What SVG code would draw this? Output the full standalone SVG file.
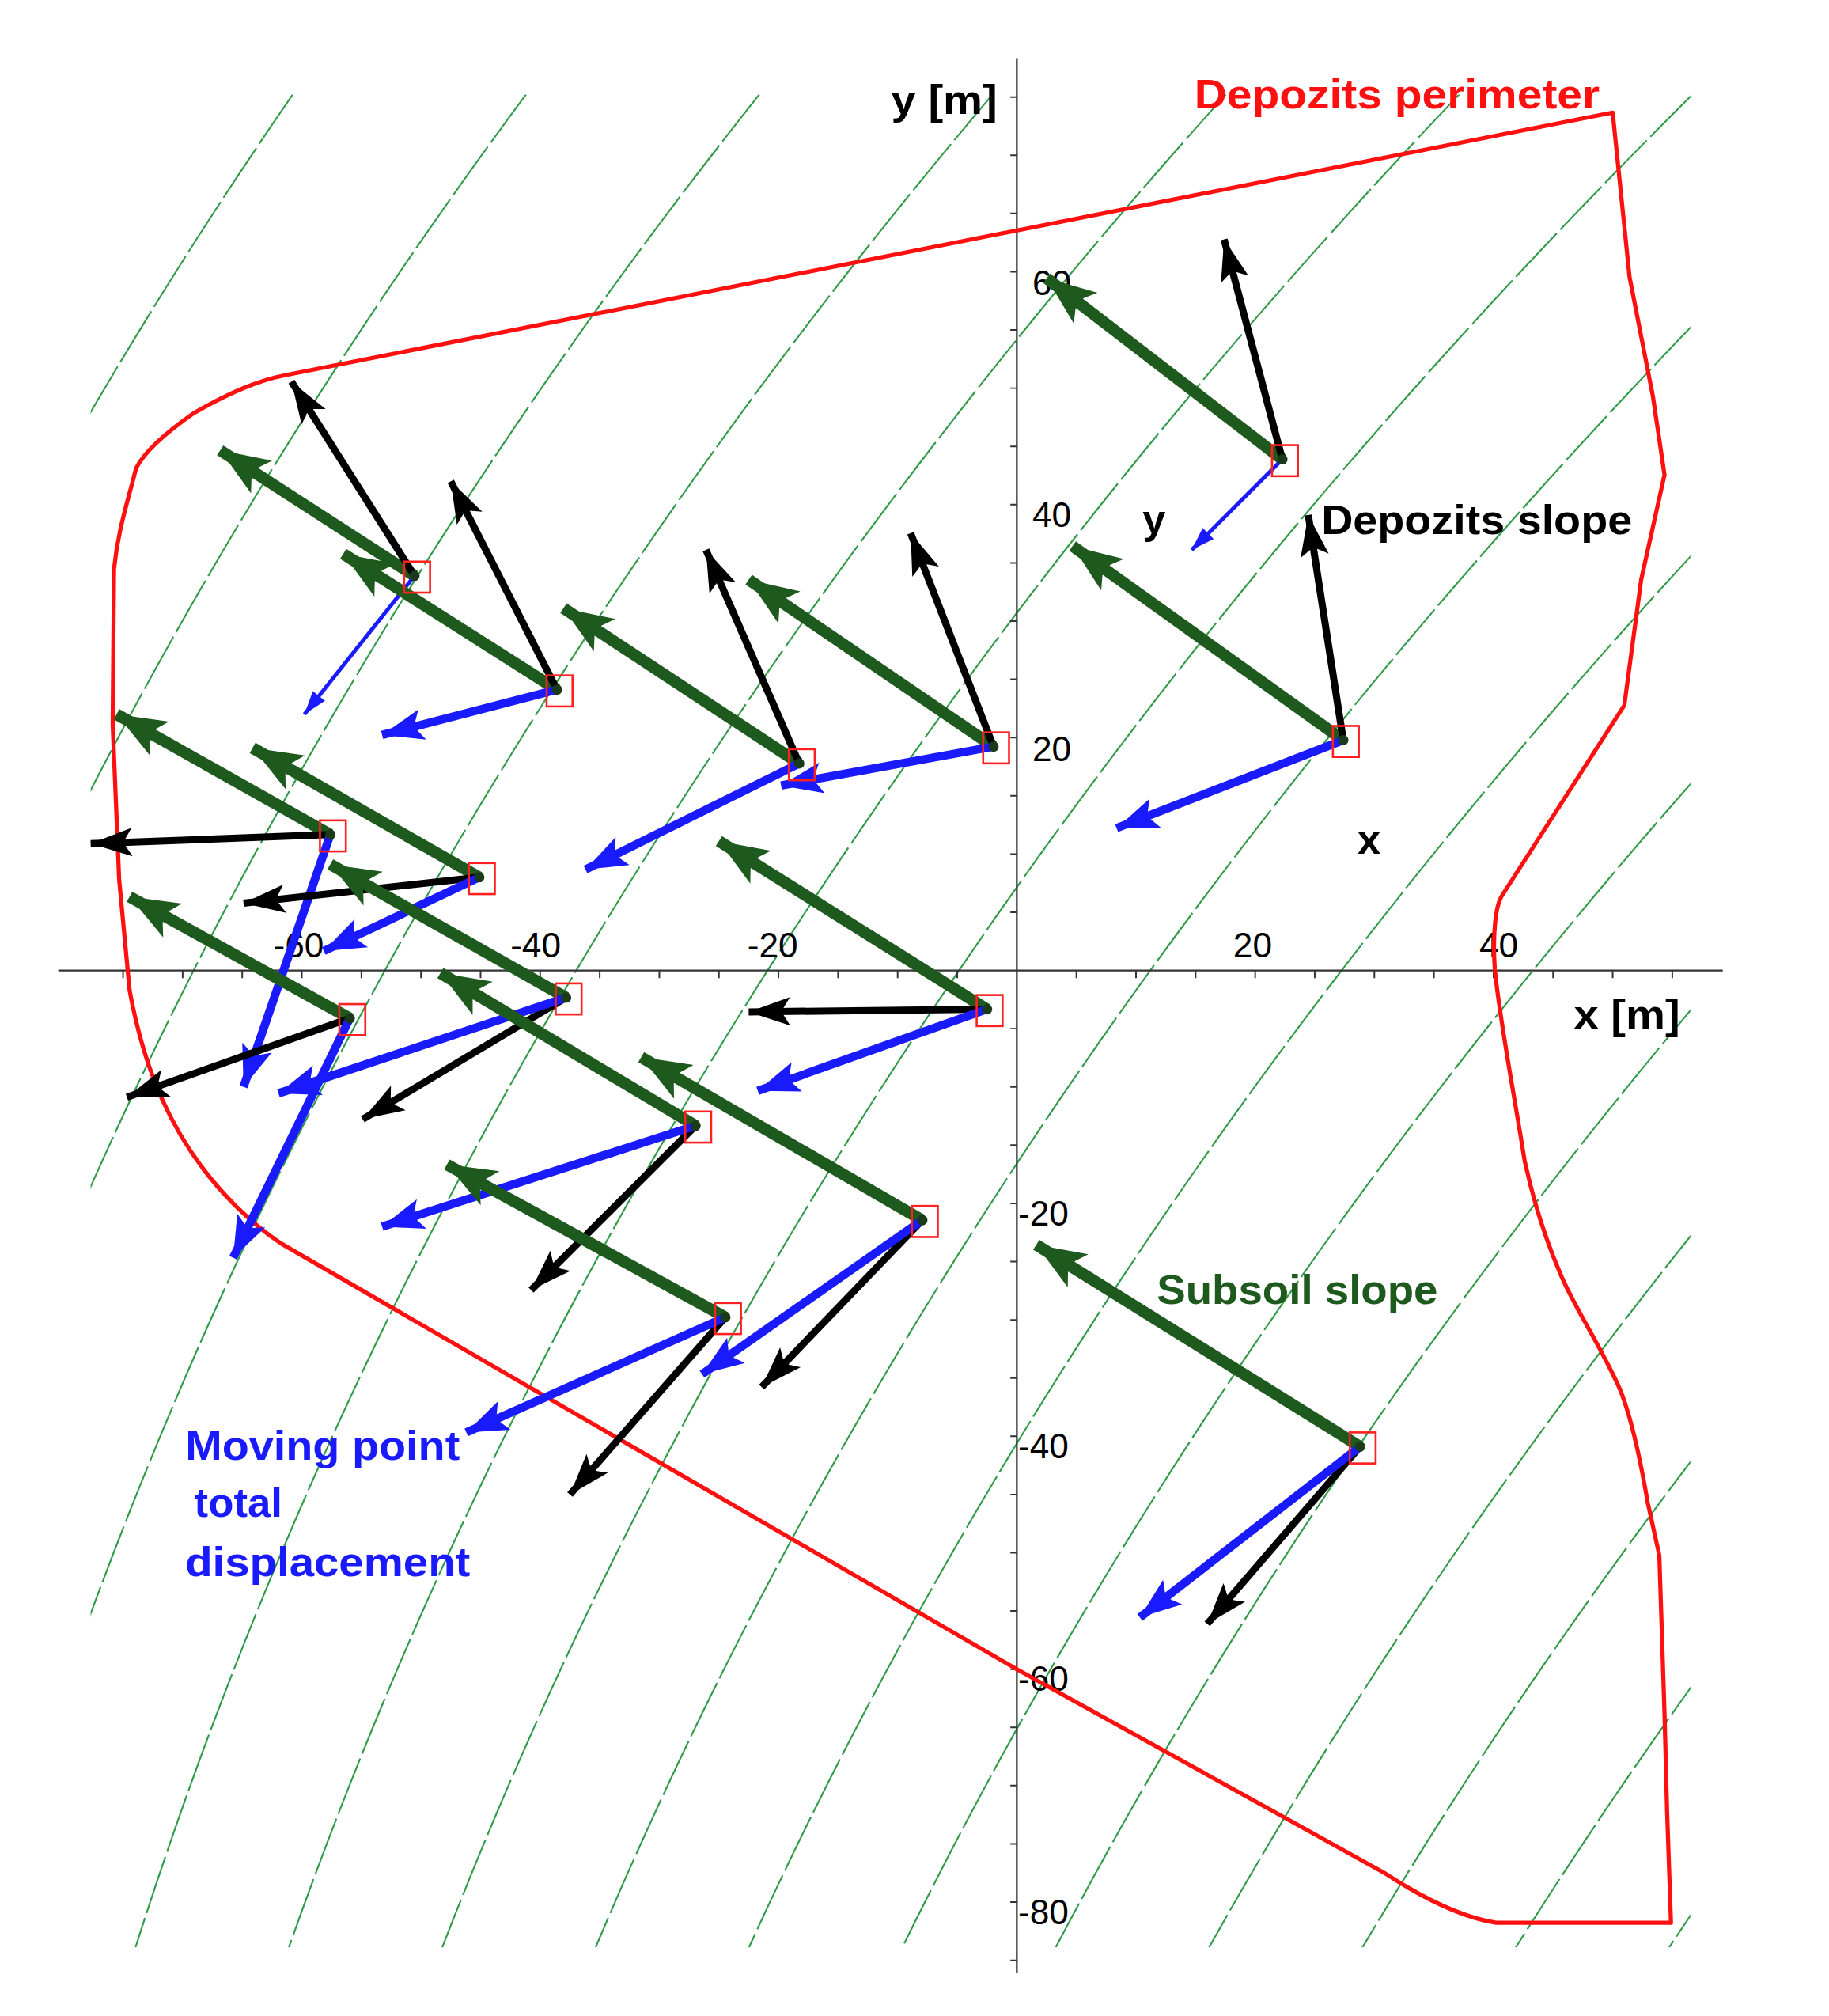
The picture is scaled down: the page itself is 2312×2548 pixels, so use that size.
<svg xmlns="http://www.w3.org/2000/svg" width="2312" height="2548" viewBox="0 0 2312 2548">
<style>
.h{fill:none;stroke:#2f9a48;stroke-width:1.3;stroke-dasharray:46 4}
.ax{stroke:#333;stroke-width:1.4;fill:none}
.tk{stroke:#333;stroke-width:1.2}
.tl{font-family:"Liberation Sans",Arial,sans-serif;font-size:27px;fill:#000}
.lb{font-family:"Liberation Sans",Arial,sans-serif;font-size:32px;font-weight:bold}
.g{stroke:#1e5a1e;stroke-width:9;fill:none;marker-end:url(#mg)}
.k{stroke:#000;stroke-width:5.5;fill:none;marker-end:url(#mk)}
.b{stroke:#1a1aff;stroke-width:6.5;fill:none;marker-end:url(#mb)}
.bs{stroke:#1a1aff;stroke-width:3;fill:none;marker-end:url(#mbs)}
.sq{fill:none;stroke:#ff2020;stroke-width:1.6}
.dt{fill:#1a3a1a}
</style>
<defs>
<clipPath id="cl"><rect x="70" y="73" width="1235" height="1432"/></clipPath>
<marker id="mg" markerUnits="userSpaceOnUse" orient="auto" refX="0" refY="0" markerWidth="90" markerHeight="90" viewBox="-45 -45 90 90" overflow="visible"><path d="M0,0 L-38,-15 L-32,-5 L-32,5 L-38,15 Z" fill="#1e5a1e"/></marker>
<marker id="mk" markerUnits="userSpaceOnUse" orient="auto" refX="0" refY="0" markerWidth="90" markerHeight="90" viewBox="-45 -45 90 90" overflow="visible"><path d="M0,0 L-32,-11 L-27,-3 L-27,3 L-32,11 Z" fill="#000"/></marker>
<marker id="mb" markerUnits="userSpaceOnUse" orient="auto" refX="0" refY="0" markerWidth="90" markerHeight="90" viewBox="-45 -45 90 90" overflow="visible"><path d="M0,0 L-32,-12 L-27,-3 L-27,3 L-32,12 Z" fill="#1a1aff"/></marker>
<marker id="mbs" markerUnits="userSpaceOnUse" orient="auto" refX="0" refY="0" markerWidth="90" markerHeight="90" viewBox="-45 -45 90 90" overflow="visible"><path d="M0,0 L-18,-6 L-18,6 Z" fill="#1a1aff"/></marker>
</defs>
<rect width="2312" height="2548" fill="#fff"/>
<g transform="scale(1.6374,1.6354)">
<g id="hatch" clip-path="url(#cl)">
<path class="h" d="M226,73 Q-232,738.7 -369,1505"/>
<path class="h" d="M406.1,73 Q-87,738.7 -250.6,1505"/>
<path class="h" d="M586.2,73 Q58,738.7 -132.2,1505"/>
<path class="h" d="M766.3,73 Q202.9,738.7 -13.8,1505"/>
<path class="h" d="M946.4,73 Q347.9,738.7 104.6,1505"/>
<path class="h" d="M1126.5,73 Q492.9,738.7 223,1505"/>
<path class="h" d="M1306.6,73 Q637.9,738.7 341.4,1505"/>
<path class="h" d="M1486.7,73 Q782.9,738.7 459.8,1505"/>
<path class="h" d="M1666.8,73 Q927.8,738.7 578.2,1505"/>
<path class="h" d="M1846.9,73 Q1072.8,738.7 696.6,1505"/>
<path class="h" d="M2027,73 Q1217.8,738.7 815,1505"/>
<path class="h" d="M2207.1,73 Q1362.8,738.7 933.4,1505"/>
<path class="h" d="M2387.2,73 Q1507.8,738.7 1051.8,1505"/>
<path class="h" d="M2567.3,73 Q1652.7,738.7 1170.2,1505"/>
<path class="h" d="M2747.4,73 Q1797.7,738.7 1288.6,1505"/>
<path class="h" d="M2927.5,73 Q1942.7,738.7 1407,1505"/>
</g>
<g id="axes">
<line class="ax" x1="45" y1="750" x2="1330" y2="750"/>
<line class="ax" x1="785" y1="45" x2="785" y2="1525"/>
<path class="tk" d="M95,750v6M141,750v6M187,750v6M233,750v6M279,750v6M325,750v6M371,750v6M417,750v6M463,750v6M509,750v6M555,750v6M601,750v6M647,750v6M693,750v6M739,750v6M831,750v6M877,750v6M923,750v6M969,750v6M1015,750v6M1061,750v6M1107,750v6M1153,750v6M1199,750v6M1245,750v6M1291,750v6"/>
<path class="tk" d="M785,75h-5M785,120h-5M785,165h-5M785,210h-5M785,255h-5M785,300h-5M785,345h-5M785,390h-5M785,435h-5M785,480h-5M785,525h-5M785,570h-5M785,615h-5M785,660h-5M785,705h-5M785,795h-5M785,840h-5M785,885h-5M785,930h-5M785,975h-5M785,1020h-5M785,1065h-5M785,1110h-5M785,1155h-5M785,1200h-5M785,1245h-5M785,1290h-5M785,1335h-5M785,1380h-5M785,1425h-5M785,1470h-5M785,1515h-5"/>
<text class="tl" x="797" y="228">60</text>
<text class="tl" x="797" y="407">40</text>
<text class="tl" x="797" y="588">20</text>
<text class="tl" x="786" y="947">-20</text>
<text class="tl" x="786" y="1127">-40</text>
<text class="tl" x="786" y="1307">-60</text>
<text class="tl" x="786" y="1487">-80</text>
<text class="tl" x="211" y="740">-60</text>
<text class="tl" x="394" y="740">-40</text>
<text class="tl" x="577" y="740">-20</text>
<text class="tl" x="952" y="740">20</text>
<text class="tl" x="1142" y="740">40</text>
</g>
<path id="perimeter" fill="none" stroke="#ff1010" stroke-width="3.2" stroke-linejoin="round" d="M1245,87 L220,290 C200,294 180,302 150,319 C130,333 112,348 105,362 C98,390 91,410 88,440 L87,560 L92,680 L100,765 C110,820 130,880 181,931 C195,945 205,953 217,961 L785,1290 L1068,1447 C1100,1468 1130,1482 1155,1486 L1290,1486 L1287,1400 L1285,1324 L1281,1202 L1272,1161 C1265,1120 1258,1090 1249,1070 C1230,1030 1215,1010 1204,983 C1190,950 1182,920 1177,897 C1168,840 1158,790 1154,749 C1152,720 1155,700 1159,693 L1254,545 L1267,448 L1285,367 L1276,306 L1258,214 Z"/>
<g id="connectors">
<line class="g" x1="990" y1="355" x2="808" y2="215"/><line class="k" x1="990" y1="355" x2="945" y2="185"/><line class="bs" x1="990" y1="355" x2="920" y2="425"/>
<line class="g" x1="320" y1="445" x2="170" y2="348"/><line class="k" x1="320" y1="445" x2="225" y2="295"/><line class="bs" x1="320" y1="445" x2="235" y2="552"/>
<line class="g" x1="430" y1="533" x2="265" y2="428"/><line class="k" x1="430" y1="533" x2="348" y2="372"/><line class="b" x1="430" y1="533" x2="295" y2="568"/>
<line class="g" x1="617" y1="590" x2="435" y2="470"/><line class="k" x1="617" y1="590" x2="545" y2="425"/><line class="b" x1="617" y1="590" x2="452" y2="672"/>
<line class="g" x1="767" y1="577" x2="578" y2="448"/><line class="k" x1="767" y1="577" x2="703" y2="412"/><line class="b" x1="767" y1="577" x2="603" y2="607"/>
<line class="g" x1="1037" y1="572" x2="828" y2="422"/><line class="k" x1="1037" y1="572" x2="1010" y2="398"/><line class="b" x1="1037" y1="572" x2="862" y2="640"/>
<line class="g" x1="255" y1="645" x2="90" y2="552"/><line class="k" x1="255" y1="645" x2="70" y2="652"/><line class="b" x1="255" y1="645" x2="188" y2="840"/>
<line class="g" x1="370" y1="678" x2="195" y2="578"/><line class="k" x1="370" y1="678" x2="188" y2="698"/><line class="b" x1="370" y1="678" x2="250" y2="735"/>
<line class="g" x1="270" y1="787" x2="100" y2="693"/><line class="k" x1="270" y1="787" x2="98" y2="848"/><line class="b" x1="270" y1="787" x2="180" y2="972"/>
<line class="g" x1="437" y1="771" x2="255" y2="668"/><line class="k" x1="437" y1="771" x2="280" y2="865"/><line class="b" x1="437" y1="771" x2="215" y2="845"/>
<line class="g" x1="762" y1="780" x2="555" y2="650"/><line class="k" x1="762" y1="780" x2="578" y2="782"/><line class="b" x1="762" y1="780" x2="585" y2="843"/>
<line class="g" x1="537" y1="870" x2="340" y2="752"/><line class="k" x1="537" y1="870" x2="410" y2="997"/><line class="b" x1="537" y1="870" x2="295" y2="948"/>
<line class="g" x1="712" y1="943" x2="495" y2="817"/><line class="k" x1="712" y1="943" x2="588" y2="1072"/><line class="b" x1="712" y1="943" x2="542" y2="1062"/>
<line class="g" x1="560" y1="1018" x2="345" y2="900"/><line class="k" x1="560" y1="1018" x2="440" y2="1155"/><line class="b" x1="560" y1="1018" x2="360" y2="1107"/>
<line class="g" x1="1050" y1="1118" x2="800" y2="962"/><line class="k" x1="1050" y1="1118" x2="932" y2="1255"/><line class="b" x1="1050" y1="1118" x2="880" y2="1250"/>
</g>
<g id="n1"><rect class="sq" x="982" y="344" width="20" height="24"/><circle class="dt" cx="990" cy="355" r="4"/></g>
<g id="n2"><rect class="sq" x="312" y="434" width="20" height="24"/><circle class="dt" cx="320" cy="445" r="4"/></g>
<g id="n3"><rect class="sq" x="422" y="522" width="20" height="24"/><circle class="dt" cx="430" cy="533" r="4"/></g>
<g id="n4"><rect class="sq" x="609" y="579" width="20" height="24"/><circle class="dt" cx="617" cy="590" r="4"/></g>
<g id="n5"><rect class="sq" x="759" y="566" width="20" height="24"/><circle class="dt" cx="767" cy="577" r="4"/></g>
<g id="n6"><rect class="sq" x="1029" y="561" width="20" height="24"/><circle class="dt" cx="1037" cy="572" r="4"/></g>
<g id="n7"><rect class="sq" x="247" y="634" width="20" height="24"/><circle class="dt" cx="255" cy="645" r="4"/></g>
<g id="n8"><rect class="sq" x="362" y="667" width="20" height="24"/><circle class="dt" cx="370" cy="678" r="4"/></g>
<g id="n9"><rect class="sq" x="262" y="776" width="20" height="24"/><circle class="dt" cx="270" cy="787" r="4"/></g>
<g id="n10"><rect class="sq" x="429" y="760" width="20" height="24"/><circle class="dt" cx="437" cy="771" r="4"/></g>
<g id="n11"><rect class="sq" x="754" y="769" width="20" height="24"/><circle class="dt" cx="762" cy="780" r="4"/></g>
<g id="n12"><rect class="sq" x="529" y="859" width="20" height="24"/><circle class="dt" cx="537" cy="870" r="4"/></g>
<g id="n13"><rect class="sq" x="704" y="932" width="20" height="24"/><circle class="dt" cx="712" cy="943" r="4"/></g>
<g id="n14"><rect class="sq" x="552" y="1007" width="20" height="24"/><circle class="dt" cx="560" cy="1018" r="4"/></g>
<g id="n15"><rect class="sq" x="1042" y="1107" width="20" height="24"/><circle class="dt" cx="1050" cy="1118" r="4"/></g>
<g id="labels">
<text class="lb" x="688" y="88" fill="#000" textLength="82" lengthAdjust="spacingAndGlyphs">y [m]</text>
<text class="lb" x="922" y="84" fill="#ff1010" textLength="313" lengthAdjust="spacingAndGlyphs">Depozits perimeter</text>
<text class="lb" x="1020" y="413" fill="#000" textLength="240" lengthAdjust="spacingAndGlyphs">Depozits slope</text>
<text class="lb" x="882" y="412" fill="#000" font-size="26">y</text>
<text class="lb" x="1048" y="660" fill="#000" font-size="26">x</text>
<text class="lb" x="1215" y="795" fill="#000" textLength="82" lengthAdjust="spacingAndGlyphs">x [m]</text>
<text class="lb" x="893" y="1008" fill="#1e5a1e" textLength="217" lengthAdjust="spacingAndGlyphs">Subsoil slope</text>
<text class="lb" x="143" y="1128" fill="#1a1aff" textLength="212" lengthAdjust="spacingAndGlyphs">Moving point</text>
<text class="lb" x="150" y="1172" fill="#1a1aff" textLength="68" lengthAdjust="spacingAndGlyphs">total</text>
<text class="lb" x="143" y="1218" fill="#1a1aff" textLength="220" lengthAdjust="spacingAndGlyphs">displacement</text>
</g>
</g>
</svg>
